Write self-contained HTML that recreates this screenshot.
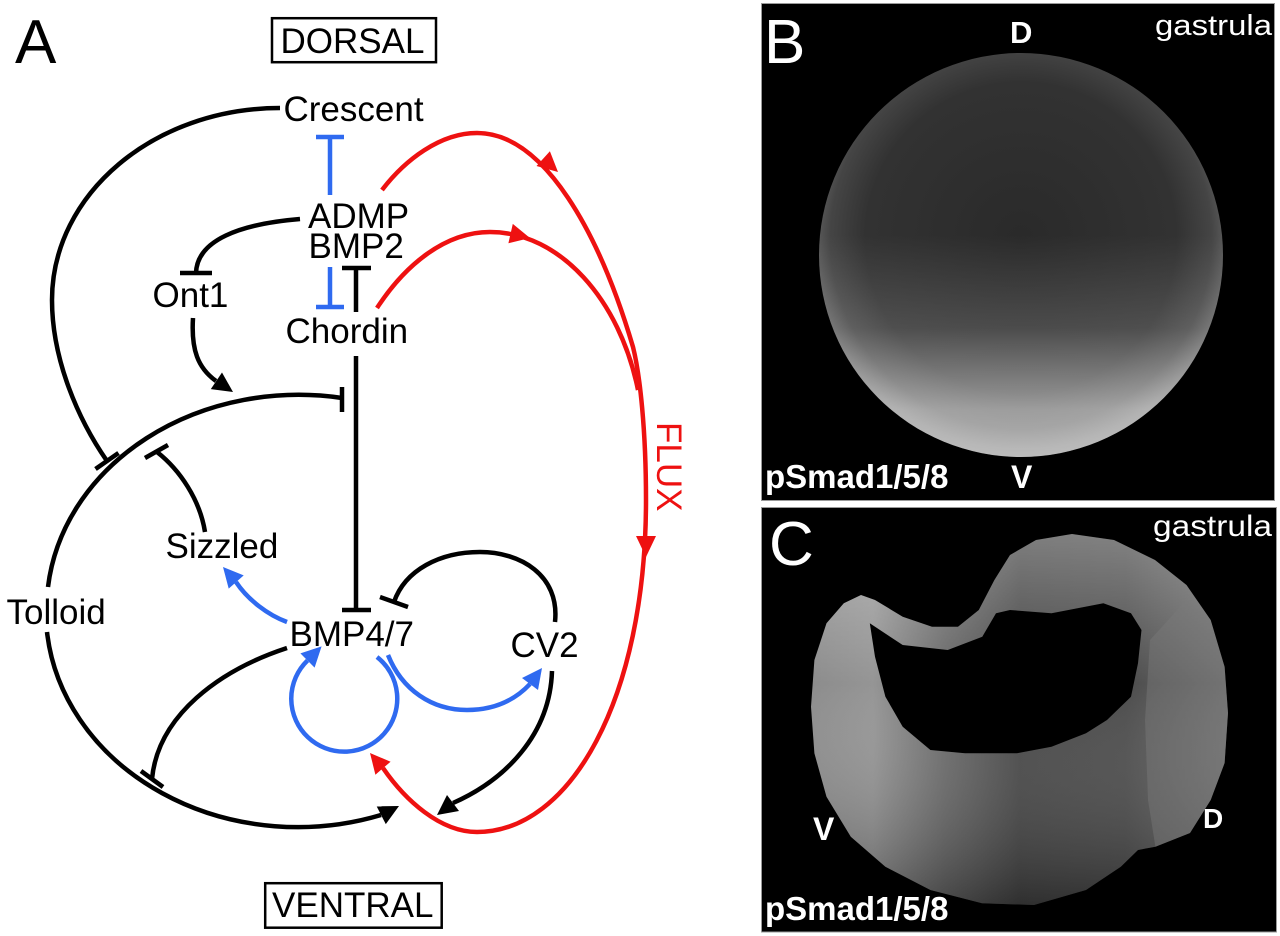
<!DOCTYPE html>
<html>
<head>
<meta charset="utf-8">
<style>
  html,body{margin:0;padding:0;background:#fff;}
  svg{display:block;}
  text{font-family:"Liberation Sans", Arial, sans-serif;}
</style>
</head>
<body>
<svg width="1280" height="936" viewBox="0 0 1280 936" xmlns="http://www.w3.org/2000/svg">
  <defs>
    <radialGradient id="gB" gradientUnits="userSpaceOnUse" cx="1021" cy="238" r="222">
      <stop offset="0" stop-color="#2a2a2a"/>
      <stop offset="0.7" stop-color="#323232"/>
      <stop offset="0.86" stop-color="#454545"/>
      <stop offset="0.95" stop-color="#646464"/>
      <stop offset="1" stop-color="#6c6c6c"/>
    </radialGradient>
    <linearGradient id="gB2" gradientUnits="userSpaceOnUse" x1="0" y1="52" x2="0" y2="458">
      <stop offset="0" stop-color="#fff" stop-opacity="0"/>
      <stop offset="0.45" stop-color="#fff" stop-opacity="0"/>
      <stop offset="0.68" stop-color="#fff" stop-opacity="0.14"/>
      <stop offset="0.88" stop-color="#fff" stop-opacity="0.5"/>
      <stop offset="1" stop-color="#fff" stop-opacity="0.55"/>
    </linearGradient>
    <linearGradient id="gC" gradientUnits="userSpaceOnUse" x1="810" y1="0" x2="1230" y2="0">
      <stop offset="0" stop-color="#8c8c8c"/>
      <stop offset="0.15" stop-color="#959595"/>
      <stop offset="0.32" stop-color="#6a6a6a"/>
      <stop offset="0.5" stop-color="#474747"/>
      <stop offset="0.75" stop-color="#4c4c4c"/>
      <stop offset="1" stop-color="#6e6e6e"/>
    </linearGradient>
    <linearGradient id="gC2" gradientUnits="userSpaceOnUse" x1="0" y1="535" x2="0" y2="906">
      <stop offset="0" stop-color="#fff" stop-opacity="0.3"/>
      <stop offset="0.4" stop-color="#fff" stop-opacity="0"/>
      <stop offset="1" stop-color="#000" stop-opacity="0.35"/>
    </linearGradient>
  </defs>

  <!-- ================= PANEL A ================= -->
  <text x="15" y="63" font-size="62" fill="#000">A</text>

  <rect x="272" y="18.2" width="164" height="44" fill="none" stroke="#000" stroke-width="2.5"/>
  <text x="280.5" y="53" font-size="35" fill="#000">DORSAL</text>

  <rect x="265.2" y="883.2" width="176.5" height="44.5" fill="none" stroke="#000" stroke-width="2.5"/>
  <text x="272" y="917" font-size="35" fill="#000">VENTRAL</text>

  <!-- labels -->
  <g font-size="35" fill="#000">
    <text x="283.5" y="121">Crescent</text>
    <text x="308" y="228">ADMP</text>
    <text x="308.5" y="258">BMP2</text>
    <text x="152.5" y="307">Ont1</text>
    <text x="285.5" y="343">Chordin</text>
    <text x="165.5" y="558">Sizzled</text>
    <text x="6.5" y="624">Tolloid</text>
    <text x="289.5" y="646">BMP4/7</text>
    <text x="510.5" y="657">CV2</text>
  </g>
  <text transform="translate(657,422) rotate(90)" font-size="35" fill="#ee1111">FLUX</text>

  <!-- black connectors -->
  <g fill="none" stroke="#000" stroke-width="4.5" stroke-linecap="butt">
    <path d="M280,108 C154,108 52,194 52,300 C52,360 78.5,420 107,461"/>
    <line x1="95.5" y1="469" x2="118.5" y2="453"/>
    <path d="M300,219 C240,224 197,240 196,273"/>
    <line x1="180" y1="273" x2="212" y2="273"/>
    <line x1="356" y1="268" x2="356" y2="312"/>
    <line x1="342" y1="268" x2="371" y2="268"/>
    <line x1="356" y1="356" x2="356" y2="610"/>
    <line x1="342" y1="610" x2="371" y2="610"/>
    <path d="M193,318 C191,350 198,368 216,381"/>
    <path d="M342,398 A252,214 0 0 0 48,587"/>
    <line x1="342" y1="387" x2="342" y2="412"/>
    <path d="M47,632 A252,216 0 0 0 381,815"/>
    <path d="M205,532 C200,500 180,470 157,452"/>
    <line x1="145" y1="458" x2="168" y2="445"/>
    <path d="M287,648 C220,670 158,715 152,779"/>
    <line x1="141" y1="771" x2="163" y2="787"/>
    <path d="M555,622 C560,575 520,552 480,552 C440,552 405,570 394,602"/>
    <line x1="380" y1="597" x2="408" y2="607"/>
    <path d="M552,671 C550,735 505,780 453,803"/>
  </g>
  <g fill="#000" stroke="none">
    <polygon points="233,392 210.8,389.1 222,372.5"/>
    <polygon points="399,806 385.8,824.1 376.6,806.3"/>
    <polygon points="437,815 447,795 459,811"/>
  </g>

  <!-- blue connectors -->
  <g fill="none" stroke="#2f6af0" stroke-width="4.5" stroke-linecap="butt">
    <line x1="330" y1="139" x2="330" y2="195"/>
    <line x1="316" y1="137" x2="344" y2="137"/>
    <line x1="330" y1="267" x2="330" y2="307"/>
    <line x1="316" y1="307" x2="344" y2="307"/>
    <path d="M287,622 C268,615 248,600 236,582"/>
    <path d="M377,657 A53,53 0 1 1 307.5,660.5"/>
    <path d="M388,655 C402,690 432,710 467,710 C495,710 515,700 530,684"/>
  </g>
  <g fill="#2f6af0" stroke="none">
    <polygon points="223,567 243.7,575.4 228.7,588.6"/>
    <polygon points="321.6,646.4 314.6,667.6 300.4,653.4"/>
    <polygon points="542,668 538,690 522,678"/>
  </g>

  <!-- red flux -->
  <g fill="none" stroke="#ee1111" stroke-width="4.5" stroke-linecap="butt">
    <path d="M382,190 C405,160 440,133 477,133 C545,133 600,235 633,347 C640,375 646,430 646,500 C646,700 570,832 477,832 C440,832 405,800 383,768"/>
    <path d="M377,308 C405,265 445,232 490,232 C560,232 620,300 638,390"/>
  </g>
  <g fill="#ee1111" stroke="none">
    <polygon points="558,172 536.5,166 549.9,151.2"/>
    <polygon points="530,238 508.4,243.3 512.8,223.9"/>
    <polygon points="646,557 636,536 656,536"/>
    <polygon points="370,753 390.6,761.7 375.4,774.7"/>
  </g>

  <!-- ================= PANEL B ================= -->
  <rect x="761.5" y="3.5" width="513" height="497" fill="#000" stroke="#9a9a9a" stroke-width="1"/>
  <circle cx="1021" cy="255" r="202" fill="url(#gB)"/>
  <circle cx="1021" cy="255" r="202" fill="url(#gB2)"/>
  <text x="764" y="63" font-size="62" fill="#fff">B</text>
  <text x="1010" y="43" font-size="31" font-weight="bold" fill="#fff">D</text>
  <text x="1155" y="35" font-size="29" fill="#fff" textLength="117" lengthAdjust="spacingAndGlyphs">gastrula</text>
  <text x="765" y="488" font-size="33" font-weight="bold" fill="#fff">pSmad1/5/8</text>
  <text x="1011" y="488" font-size="32" font-weight="bold" fill="#fff">V</text>

  <!-- ================= PANEL C ================= -->
  <rect x="761.5" y="507.5" width="515" height="424.5" fill="#000" stroke="#9a9a9a" stroke-width="1"/>
  <path fill-rule="evenodd" fill="url(#gC)" d="
    M843.8,603.3 L861,595 L875,600 L902.7,616.7 L932,626.7 L958,626.7 L978.8,610 L994.4,580 L1010,555 L1036,540 L1072,534 L1114,540 L1155,560 L1186.5,585 L1210.7,620 L1224.6,666.7 L1228,713 L1224.6,763 L1210.7,800 L1190,833 L1155.4,846.7 L1138,850 L1120.8,866.7 L1086,890 L1034,905 L982,903.3 L930.4,890 L885.4,866.7 L850.8,836.7 L826.5,796.7 L814.4,753.3 L811,706.7 L814.4,660 L826.5,623.3 Z
    M869.8,623.3 L902.7,645 L947.7,650 L982.3,636.7 L996,613.3 L1010,610 L1051.5,613.3 L1103.4,603.3 L1131,613.3 L1141.5,630 L1138,663.3 L1131,696.7 L1107,720 L1086,733.3 L1051.5,746.7 L1017,753.3 L965,753.3 L930.4,750 L902.7,726.7 L885.4,696.7 L875,656.7 Z"/>
  <path fill-rule="evenodd" fill="url(#gC2)" d="
    M843.8,603.3 L861,595 L875,600 L902.7,616.7 L932,626.7 L958,626.7 L978.8,610 L994.4,580 L1010,555 L1036,540 L1072,534 L1114,540 L1155,560 L1186.5,585 L1210.7,620 L1224.6,666.7 L1228,713 L1224.6,763 L1210.7,800 L1190,833 L1155.4,846.7 L1138,850 L1120.8,866.7 L1086,890 L1034,905 L982,903.3 L930.4,890 L885.4,866.7 L850.8,836.7 L826.5,796.7 L814.4,753.3 L811,706.7 L814.4,660 L826.5,623.3 Z
    M869.8,623.3 L902.7,645 L947.7,650 L982.3,636.7 L996,613.3 L1010,610 L1051.5,613.3 L1103.4,603.3 L1131,613.3 L1141.5,630 L1138,663.3 L1131,696.7 L1107,720 L1086,733.3 L1051.5,746.7 L1017,753.3 L965,753.3 L930.4,750 L902.7,726.7 L885.4,696.7 L875,656.7 Z"/>
  <path fill="#7a7a7a" fill-opacity="0.45" d="M1150,640 L1186.5,600 L1210.7,625 L1224.6,666.7 L1228,713 L1224.6,763 L1210.7,800 L1190,833 L1155.4,846.7 L1148,800 L1145,720 Z"/>
  <text x="769" y="565" font-size="62" fill="#fff">C</text>
  <text x="1153" y="536" font-size="30" fill="#fff" textLength="119" lengthAdjust="spacingAndGlyphs">gastrula</text>
  <text x="813" y="840" font-size="32" font-weight="bold" fill="#fff">V</text>
  <text x="1203" y="828" font-size="28" font-weight="bold" fill="#fff">D</text>
  <text x="765" y="920" font-size="33" font-weight="bold" fill="#fff">pSmad1/5/8</text>
</svg>
</body>
</html>
